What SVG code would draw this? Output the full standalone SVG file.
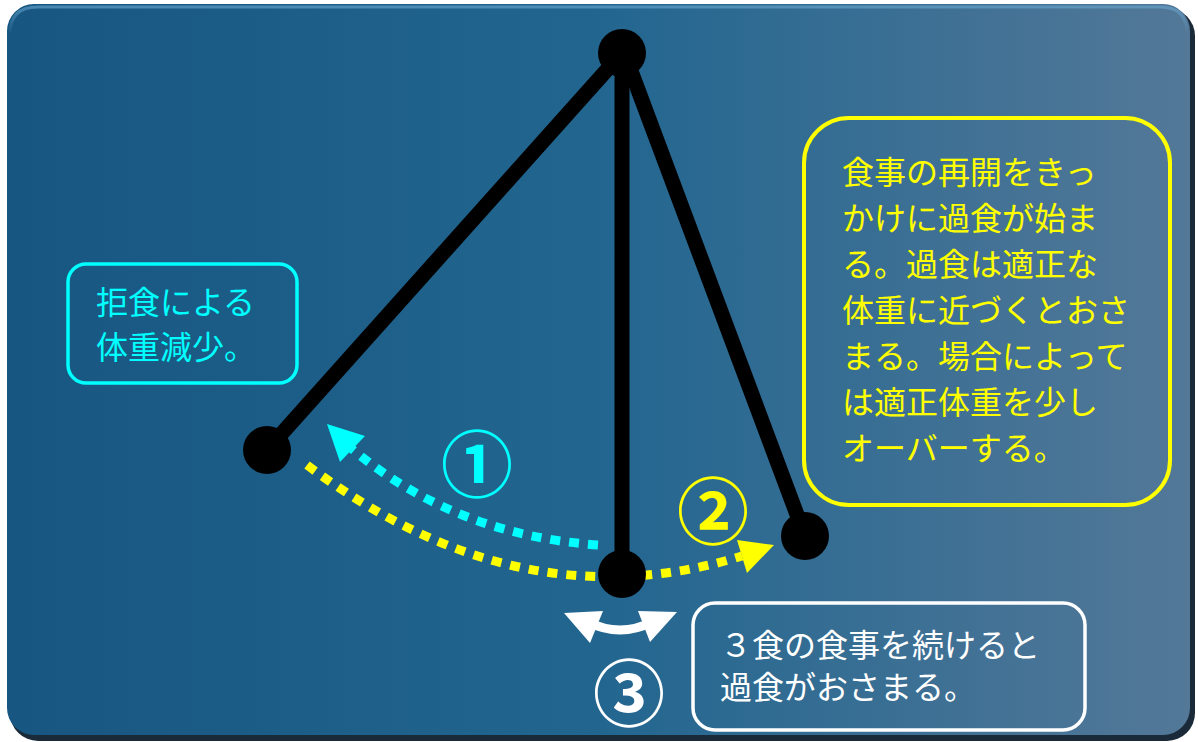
<svg xmlns="http://www.w3.org/2000/svg" width="1198" height="742" viewBox="0 0 1198 742">
<defs>
<linearGradient id="bg" x1="0" y1="0" x2="1" y2="0">
<stop offset="0" stop-color="#175680"/>
<stop offset="0.5" stop-color="#226690"/>
<stop offset="1" stop-color="#537898"/>
</linearGradient>
<linearGradient id="hl" x1="0" y1="0" x2="0" y2="1">
<stop offset="0" stop-color="#6aa8d0" stop-opacity="0.6"/>
<stop offset="1" stop-color="#6aa8d0" stop-opacity="0"/>
</linearGradient>
<style>
.jp{font-family:"Noto Sans CJK JP","Noto Sans CJK SC",sans-serif;font-size:32px;}
.rod{stroke:#000;stroke-width:15;stroke-linecap:round;fill:none;}
.bob{fill:#000;}
.dot{fill:none;stroke-width:9;stroke-dasharray:10 9;}
.num{font-family:"Noto Sans CJK JP",sans-serif;font-size:72px;font-weight:bold;text-anchor:middle;dominant-baseline:central;}
</style>
</defs>
<g id="background">
<rect x="10" y="8" width="1185" height="733" rx="28" fill="#1b2a38"/>
<rect x="7" y="4" width="1183" height="731" rx="27" fill="url(#bg)"/>
<path d="M10,34 Q10,7 38,7 L1160,7 Q1187,7 1187,34" fill="none" stroke="url(#hl)" stroke-width="3"/>
</g>
<g id="connectors">
<path d="M598,545 Q455,535 352,449" class="dot" stroke="#00ffff"/>
<polygon points="327,424 365,436 340,462" fill="#00ffff"/>
<path d="M307,465 Q520,625 742,556" class="dot" stroke="#ffff00"/>
<polygon points="774,545 737,540 747,573" fill="#ffff00"/>
<path d="M588,622 Q620,638 652,622" fill="none" stroke="#fff" stroke-width="9"/>
<polygon points="564,613 603,611 590,643" fill="#fff"/>
<polygon points="677,612 638,611 650,642" fill="#fff"/>
</g>
<g id="pendulum">
<line x1="622" y1="53" x2="267" y2="450" class="rod"/>
<line x1="622" y1="53" x2="622" y2="573" class="rod"/>
<line x1="625" y1="55" x2="805" y2="536" class="rod"/>
<circle cx="622" cy="53" r="24" class="bob"/>
<circle cx="267" cy="450" r="24" class="bob"/>
<circle cx="622" cy="574" r="24" class="bob"/>
<circle cx="805" cy="536" r="24" class="bob"/>
</g>
<g id="num1"><text x="477" y="459" class="num" fill="#00ffff">①</text></g>
<g id="num2"><text x="713" y="506" class="num" fill="#ffff00">②</text></g>
<g id="num3"><text x="629" y="688" class="num" fill="#ffffff">③</text></g>
<g id="box-anorexia">
<rect x="68" y="264" width="229" height="119" rx="18" fill="none" stroke="#00ffff" stroke-width="3.5"/>
<text class="jp" fill="#00ffff"><tspan x="96" y="314">拒食による</tspan><tspan x="96" y="359">体重減少。</tspan></text>
</g>
<g id="box-overeating">
<rect x="804" y="118" width="366" height="387" rx="45" fill="none" stroke="#ffff00" stroke-width="4"/>
<text class="jp" fill="#ffff00"><tspan x="842" y="184">食事の再開をきっ</tspan><tspan x="842" y="230">かけに過食が始ま</tspan><tspan x="842" y="276">る。過食は適正な</tspan><tspan x="842" y="322">体重に近づくとおさ</tspan><tspan x="842" y="368">まる。場合によって</tspan><tspan x="842" y="414">は適正体重を少し</tspan><tspan x="842" y="460">オーバーする。</tspan></text>
</g>
<g id="box-three-meals">
<rect x="693" y="603" width="392" height="127" rx="22" fill="none" stroke="#ffffff" stroke-width="3.5"/>
<text class="jp" fill="#ffffff"><tspan x="720" y="657">３食の食事を続けると</tspan><tspan x="720" y="699">過食がおさまる。</tspan></text>
</g>
</svg>
